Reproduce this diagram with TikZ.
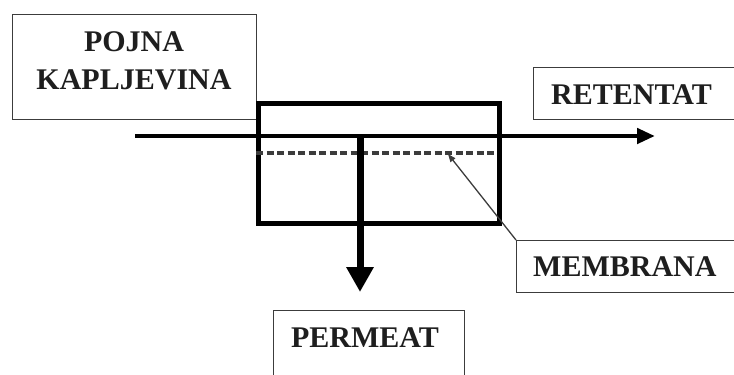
\documentclass[tikz,border=0pt]{standalone}
\usepackage{fontspec}
\setmainfont{Liberation Serif}
\usetikzlibrary{arrows.meta}
\definecolor{ink}{HTML}{1E1E1E}
\definecolor{thin}{HTML}{3C3C3C}
\tikzset{
  lbox/.style={draw=thin, line width=1.2bp, fill=white, inner sep=0pt, anchor=north west},
  ltext/.style={text=ink, font=\fontsize{30bp}{38bp}\selectfont\bfseries, inner sep=0pt, align=center},
  flow/.style={draw=black, line width=4.5bp, -{Triangle[length=18bp,width=15bp]}},
  permflow/.style={draw=black, line width=7bp, -{Triangle[length=25bp,width=26bp]}},
  membox/.style={draw=black, line width=5bp, inner sep=0pt, anchor=north west},
  memline/.style={draw=thin, line width=4bp, dash pattern=on 7bp off 3.5bp},
  pointer/.style={draw=thin, line width=1.3bp, -{Triangle[length=8bp,width=6bp]}}
}
\begin{document}
\begin{tikzpicture}[x=1bp,y=-1bp]
\useasboundingbox (0,0) rectangle (734,374);
\clip (0,0) rectangle (734,374);
% label boxes
\node[lbox, minimum width=244bp, minimum height=105bp] (feedbox) at (12,14) {};
\node[ltext] (feed) at (134,61) {POJNA\\KAPLJEVINA};
\node[lbox, minimum width=240bp, minimum height=52bp] (retbox) at (533,67) {};
\node[ltext, anchor=west] (ret) at (551,95) {RETENTAT};
\node[lbox, minimum width=240bp, minimum height=52bp] (membox) at (516,240) {};
\node[ltext, anchor=west] (mem) at (533,267) {MEMBRANA};
\node[lbox, minimum width=191bp, minimum height=90bp] (perbox) at (273,310) {};
\node[ltext] (per) at (365,338) {PERMEAT};
% module
\node[membox, minimum width=241bp, minimum height=120bp] (module) at (256,101) {};
\coordinate (inlet) at (135,136);
\coordinate (outlet) at (655,136);
\coordinate (split) at (360,136);
\coordinate (permout) at (360,292);
\coordinate (mL) at (256,153);
\coordinate (mR) at (497,153);
\coordinate (mP) at (448,154);
\draw[memline] (mL) -- (mR);
\draw[flow] (inlet) -- (outlet);
\draw[permflow] (split) -- (permout);
\draw[pointer] (membox.north west) -- (mP);
\end{tikzpicture}
\end{document}
